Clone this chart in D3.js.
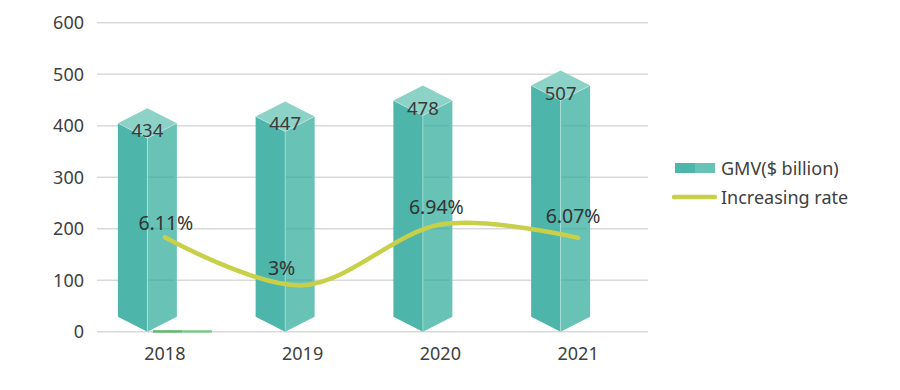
<!DOCTYPE html>
<html>
<head>
<meta charset="utf-8">
<script src="https://cdn.jsdelivr.net/npm/d3@7"></script>
<style>
  html, body { margin: 0; padding: 0; background: #ffffff; }
  svg { display: block; font-family: "Noto Sans", "DejaVu Sans", sans-serif; }
</style>
</head>
<body>
<svg id="chart" width="900" height="390"></svg>
<script>
// ---- data ----
const years = ["2018", "2019", "2020", "2021"];
const gmv = [434, 447, 478, 507];
const rate = [6.11, 3, 6.94, 6.07];
const rateLabels = ["6.11%", "3%", "6.94%", "6.07%"];
const yTicks = [0, 100, 200, 300, 400, 500, 600];
const seriesNames = ["GMV($ billion)", "Increasing rate"];

// ---- layout ----
const svg = d3.select("#chart");
const x = d3.scaleBand().domain(years).range([96, 647]);
const y = d3.scaleLinear().domain([0, 600]).range([331.7, 22.7]);
const yRate = d3.scaleLinear().domain([0, 20]).range([331.7, 22.7]);

const textColor = "#404040";
const barW = 59, capH = 15, barOffset = -17.5;
const cLeft = "#4db5aa", cRight = "#68c2b6", cTop = "#8cd2c7";
const lineColor = "#c8d04a";
// manual label placement nudges (dx, dy from the point)
const labelNudge = [[1, -7], [-21, -10], [-4, -10], [-5, -15]];

// gridlines
svg.append("g").selectAll("line").data(yTicks).join("line")
  .attr("x1", 97).attr("x2", 648)
  .attr("y1", d => y(d)).attr("y2", d => y(d))
  .attr("stroke", "#d9d9d9").attr("stroke-width", 1.5);

// y axis labels
const yAxis = d3.axisLeft(y).tickValues(yTicks).tickSize(0).tickPadding(0);
const yg = svg.append("g").attr("transform", "translate(84,0)").call(yAxis);
yg.select(".domain").remove();
yg.selectAll("text").attr("font-size", 18).attr("fill", textColor)
  .attr("font-family", "Noto Sans, DejaVu Sans, sans-serif").attr("dy", "0.34em");

// x axis labels
const xAxis = d3.axisBottom(x).tickSize(0).tickPadding(0);
const xg = svg.append("g").attr("transform", "translate(0,347)").call(xAxis);
xg.select(".domain").remove();
xg.selectAll("text").attr("font-size", 18).attr("fill", textColor)
  .attr("font-family", "Noto Sans, DejaVu Sans, sans-serif").attr("dy", "0.71em");

// small second-series sliver at first category
const y0 = y(0);
{
  const cx = x(years[0]) + x.bandwidth() / 2 - barOffset;
  svg.append("rect").attr("x", cx - barW / 2).attr("y", y0 - 1.5)
    .attr("width", barW / 2).attr("height", 2.5).attr("fill", "#5cb96a");
  svg.append("rect").attr("x", cx).attr("y", y0 - 1.5)
    .attr("width", barW / 2).attr("height", 2.5).attr("fill", "#7cc98a");
}

// 3D prism bars
const bars = svg.append("g").selectAll("g").data(gmv).join("g");
bars.each(function(v, i) {
  const g = d3.select(this);
  const cx = x(years[i]) + x.bandwidth() / 2 + barOffset;
  const yv = y(v);
  const l = cx - barW / 2, r = cx + barW / 2;
  g.append("polygon")
    .attr("points", [[l, yv + capH], [cx, yv + 2 * capH], [cx, y0], [l, y0 - capH]].join(" "))
    .attr("fill", cLeft);
  g.append("polygon")
    .attr("points", [[cx, yv + 2 * capH], [r, yv + capH], [r, y0 - capH], [cx, y0]].join(" "))
    .attr("fill", cRight);
  // faint gridlines seen through the lighter face
  yTicks.filter(t => y(t) > yv + 2 * capH + 2 && y(t) < y0 - capH - 2).forEach(t => {
    g.append("line").attr("x1", cx + 1).attr("x2", r - 3).attr("y1", y(t)).attr("y2", y(t))
      .attr("stroke", "#3a9a8f").attr("stroke-opacity", 0.25).attr("stroke-width", 1.5);
  });
  g.append("line").attr("x1", cx).attr("x2", cx).attr("y1", yv + 2 * capH).attr("y2", y0)
    .attr("stroke", "#ffffff").attr("stroke-opacity", 0.35).attr("stroke-width", 1);
  g.append("polygon")
    .attr("points", [[cx, yv], [r, yv + capH], [cx, yv + 2 * capH], [l, yv + capH]].join(" "))
    .attr("fill", cTop);
  g.append("polyline")
    .attr("points", [[l, yv + capH], [cx, yv + 2 * capH], [r, yv + capH]].join(" "))
    .attr("fill", "none").attr("stroke", "#ffffff").attr("stroke-opacity", 0.3).attr("stroke-width", 1);
  g.append("text").attr("x", cx).attr("y", yv + 2 * capH - 1)
    .attr("text-anchor", "middle").attr("font-size", 18.5).attr("fill", "#3a3a3a")
    .text(v);
});

// rate line
const pts = rate.map((r, i) => [x(years[i]) + x.bandwidth() / 2, yRate(r)]);
svg.append("path")
  .attr("d", d3.line().curve(d3.curveCardinal.tension(0))(pts))
  .attr("fill", "none").attr("stroke", lineColor).attr("stroke-width", 4.5)
  .attr("stroke-linecap", "round");

// rate labels
svg.append("g").selectAll("text").data(rateLabels).join("text")
  .attr("x", (d, i) => pts[i][0] + labelNudge[i][0])
  .attr("y", (d, i) => pts[i][1] + labelNudge[i][1])
  .attr("text-anchor", "middle").attr("font-size", 19.5).attr("fill", "#333333")
  .text(d => d);

// legend
const lg = svg.append("g");
lg.append("rect").attr("x", 675).attr("y", 163).attr("width", 20).attr("height", 10).attr("fill", cLeft);
lg.append("rect").attr("x", 695).attr("y", 163).attr("width", 20).attr("height", 10).attr("fill", cRight);
lg.append("line").attr("x1", 674).attr("x2", 715).attr("y1", 197).attr("y2", 197)
  .attr("stroke", lineColor).attr("stroke-width", 4.5).attr("stroke-linecap", "round");
lg.selectAll("text").data(seriesNames).join("text")
  .attr("x", 721).attr("y", (d, i) => i === 0 ? 174.5 : 203.5)
  .attr("font-size", 18).attr("fill", textColor)
  .text(d => d);
</script>
</body>
</html>
